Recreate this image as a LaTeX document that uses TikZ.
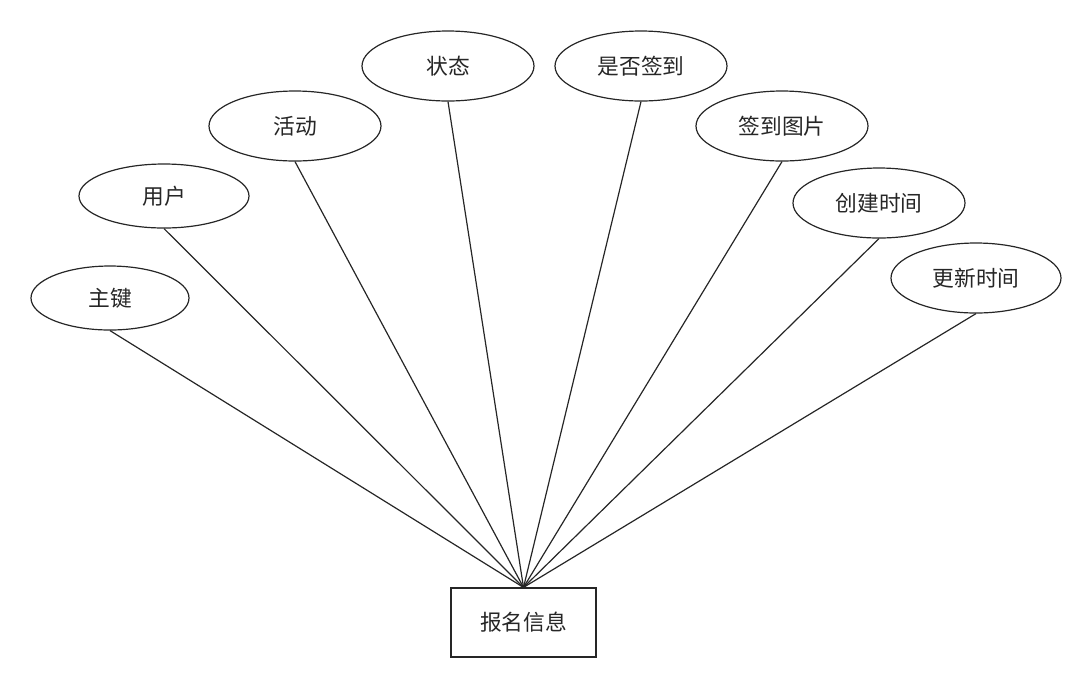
\documentclass[tikz,border=0pt]{standalone}
\usepackage{fontspec}
\newfontfamily\cjk{Noto Sans CJK SC}
\usetikzlibrary{shapes.geometric}
\begin{document}
\begin{tikzpicture}[x=0.75pt,y=-0.75pt,
  attr/.style={draw=black!85,line width=0.9pt,ellipse,inner sep=0pt,font=\cjk\fontsize{16.3}{19}\selectfont,text=black!85},
  ent/.style={draw=black!85,line width=0.9pt,rectangle,inner sep=0pt,font=\cjk\fontsize{16.3}{19}\selectfont,text=black!85},
  link/.style={draw=black!85,line width=0.9pt}]
\useasboundingbox (0,0) rectangle (1092,687);
\node[ent,minimum width=145*0.75pt,minimum height=69*0.75pt] (e) at (523.5,622.5) {报名信息};
\node[attr,minimum width=158*0.75pt,minimum height=64*0.75pt] (a1) at (110,298) {主键};
\node[attr,minimum width=170*0.75pt,minimum height=64*0.75pt] (a2) at (164,196) {用户};
\node[attr,minimum width=172*0.75pt,minimum height=70*0.75pt] (a3) at (295,126) {活动};
\node[attr,minimum width=172*0.75pt,minimum height=70*0.75pt] (a4) at (448,66) {状态};
\node[attr,minimum width=172*0.75pt,minimum height=70*0.75pt] (a5) at (641,66) {是否签到};
\node[attr,minimum width=172*0.75pt,minimum height=70*0.75pt] (a6) at (782,126) {签到图片};
\node[attr,minimum width=172*0.75pt,minimum height=70*0.75pt] (a7) at (879,203) {创建时间};
\node[attr,minimum width=170*0.75pt,minimum height=70*0.75pt] (a8) at (976,278) {更新时间};
\foreach \a in {a1,a2,a3,a4,a5,a6,a7,a8}{
  \draw[link] (\a.south) -- (e.north);
}
\end{tikzpicture}
\end{document}
